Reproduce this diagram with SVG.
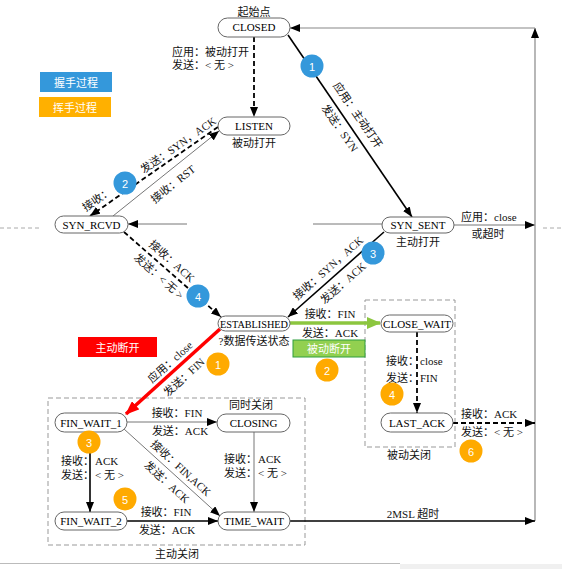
<svg xmlns="http://www.w3.org/2000/svg" width="562" height="569" viewBox="0 0 562 569">
<style>
text{font-family:"Liberation Serif","Noto Sans CJK SC",serif;font-size:11px;fill:#111}
.c{text-anchor:middle}
.node rect{fill:#fff;stroke:#666;stroke-width:1}
.nt{font-size:11px;text-anchor:middle;fill:#000}
.sans{font-family:"Liberation Sans","Noto Sans CJK SC",sans-serif;fill:#fff;text-anchor:middle}
.gray{stroke:#777;stroke-width:1;fill:none}
.blk{stroke:#000;stroke-width:1.6;fill:none}
.dash{stroke:#000;stroke-width:1.8;stroke-dasharray:5,3;fill:none}
.box{stroke:#999;stroke-width:1;stroke-dasharray:5,3;fill:none}
.bb{fill:#3498db}
.ob{fill:#ffaa00}
</style>
<defs>
<marker id="ab" markerUnits="userSpaceOnUse" markerWidth="10" markerHeight="8" refX="10" refY="4" orient="auto"><path d="M0,0 L10,4 L0,8 z" fill="#000"/></marker>
<marker id="ar" markerUnits="userSpaceOnUse" markerWidth="14" markerHeight="11" refX="13" refY="5.5" orient="auto"><path d="M0,0 L14,5.5 L0,11 z" fill="#ff0000"/></marker>
<marker id="ag" markerUnits="userSpaceOnUse" markerWidth="14" markerHeight="12" refX="13" refY="6" orient="auto"><path d="M0,0 L14,6 L0,12 z" fill="#8cc63f"/></marker>
</defs>
<rect width="562" height="569" fill="#fff"/>
<line x1="0" y1="563.5" x2="400" y2="563.5" stroke="#bbb"/>
<rect x="400" y="564" width="162" height="5" fill="#f0f0f0"/>
<line x1="0" y1="228" x2="42" y2="228" stroke="#aaa" stroke-dasharray="4,3"/>
<line x1="543" y1="228" x2="562" y2="228" stroke="#aaa" stroke-dasharray="4,3"/>

<!-- dashed group boxes -->
<rect class="box" x="365" y="300" width="90" height="147"/>
<rect class="box" x="48" y="398" width="257" height="147"/>

<!-- legend -->
<g id="legend">
<rect x="40" y="72" width="72" height="20" fill="#3498db"/>
<text class="sans" x="76" y="87" font-size="13">握手过程</text>
<rect x="39" y="97" width="72" height="20" fill="#ffb000"/>
<text class="sans" x="75" y="112" font-size="13">挥手过程</text>
</g>

<g id="connectors">
<line class="dash" x1="254" y1="37" x2="254" y2="117" marker-end="url(#ab)"/>
<line class="blk" x1="288" y1="35" x2="412" y2="217" marker-end="url(#ab)"/>
<line class="dash" x1="218" y1="127" x2="90" y2="216" marker-end="url(#ab)"/>
<line class="gray" x1="113" y1="216" x2="219" y2="131" marker-end="url(#ab)"/>
<line class="gray" x1="382" y1="224" x2="313" y2="224"/>
<line class="gray" x1="187" y1="224" x2="128" y2="224" marker-end="url(#ab)"/>
<line class="dash" x1="124" y1="232" x2="221" y2="317" marker-end="url(#ab)"/>
<line class="blk" x1="384" y1="232" x2="288" y2="317" marker-end="url(#ab)"/>
<line class="gray" x1="454" y1="225" x2="535" y2="225" stroke="#555" marker-end="url(#ab)"/>
<line x1="535" y1="521" x2="535" y2="28" stroke="#888" stroke-width="1.2" marker-end="url(#ab)"/>
<line x1="535" y1="28" x2="290" y2="28" stroke="#888" stroke-width="1.2" marker-end="url(#ab)"/>
<line x1="290" y1="323" x2="380" y2="323" stroke="#8cc63f" stroke-width="3.5" marker-end="url(#ag)"/>
<line x1="220" y1="329" x2="126" y2="414" stroke="#ff0000" stroke-width="3.5" marker-end="url(#ar)"/>
<line class="dash" x1="417" y1="332" x2="417" y2="413" marker-end="url(#ab)"/>
<line class="dash" x1="453" y1="423" x2="535" y2="423" marker-end="url(#ab)"/>
<line class="gray" x1="127" y1="422" x2="217" y2="422" marker-end="url(#ab)"/>
<line class="blk" x1="90" y1="432" x2="90" y2="512" stroke-width="1.8" marker-end="url(#ab)"/>
<line class="gray" x1="124" y1="429" x2="220" y2="516" marker-end="url(#ab)"/>
<line class="gray" x1="254" y1="432" x2="254" y2="512" marker-end="url(#ab)"/>
<line class="blk" x1="127" y1="521" x2="218" y2="521" stroke-width="1.8" marker-end="url(#ab)"/>
<line class="blk" x1="290" y1="521" x2="535" y2="521" stroke-width="1.8" marker-end="url(#ab)"/>
</g>

<g id="labels">
<text class="c" x="254" y="16">起始点</text>
<text x="172" y="56">应用：被动打开</text>
<text x="172" y="69">发送：&lt; 无 &gt;</text>
<text class="c" x="254" y="147">被动打开</text>
<text class="c" transform="translate(358,115) rotate(55.4)" y="4">应用：主动打开</text>
<text class="c" transform="translate(340,128) rotate(55.4)" y="4">发送：SYN</text>
<text x="461" y="221">应用：close</text>
<text class="c" x="488" y="238">或超时</text>
<text class="c" x="418" y="246">主动打开</text>
<text class="c" transform="translate(178,145) rotate(-34.8)" y="4">发送：SYN，ACK</text>
<text class="c" transform="translate(97,199) rotate(-34.8)" y="4">接收：</text>
<text class="c" transform="translate(173,184) rotate(-38.7)" y="4">接收：RST</text>
<text class="c" transform="translate(172,261) rotate(41.7)" y="4">接收：ACK</text>
<text class="c" transform="translate(159,276) rotate(41.7)" y="4">发送：&lt; 无 &gt;</text>
<text class="c" transform="translate(328,268) rotate(-41.5)" y="4">接收：SYN，ACK</text>
<text class="c" transform="translate(343,283) rotate(-41.5)" y="4">发送：ACK</text>
<text class="c" x="254" y="345">?数据传送状态</text>
<text class="c" x="330" y="318">接收：FIN</text>
<text class="c" x="330" y="337">发送：ACK</text>
<text class="c" transform="translate(170,362) rotate(-42.1)" y="4">应用：close</text>
<text class="c" transform="translate(184,377) rotate(-42.1)" y="4">发送：FIN</text>
<text x="386" y="365">接收：<tspan x="420">close</tspan></text>
<text x="386" y="382">发送：<tspan x="420">FIN</tspan></text>
<text x="461" y="418">接收：ACK</text>
<text x="461" y="436">发送：&lt; 无 &gt;</text>
<text class="c" x="409" y="459">被动关闭</text>
<text class="c" x="251" y="409">同时关闭</text>
<text class="c" x="177" y="417">接收：FIN</text>
<text class="c" x="180" y="435">发送：ACK</text>
<text x="61" y="465">接收：<tspan x="95">ACK</tspan></text>
<text x="61" y="479">发送：<tspan x="95">&lt; 无 &gt;</tspan></text>
<text x="224" y="463">接收：<tspan x="258">ACK</tspan></text>
<text x="224" y="477">发送：<tspan x="258">&lt; 无 &gt;</tspan></text>
<text class="c" transform="translate(181,468) rotate(42.2)" y="4">接收：FIN,ACK</text>
<text class="c" transform="translate(167,482) rotate(42.2)" y="4">发送：ACK</text>
<text class="c" x="166" y="516">接收：FIN</text>
<text class="c" x="167" y="534">发送：ACK</text>
<text class="c" x="413" y="518">2MSL 超时</text>
<text class="c" x="177" y="558">主动关闭</text>
</g>

<g id="tag-active">
<rect x="78" y="337" width="79" height="20" fill="#ff0000"/>
<text class="sans" x="117.5" y="352" font-size="14">主动断开</text>
</g>
<g id="tag-passive">
<rect x="293" y="340" width="72" height="17" fill="#92d050" stroke="#2e9e3e"/>
<text class="sans" x="329" y="353" font-size="13">被动断开</text>
</g>

<g id="node-closed" class="node"><rect x="218" y="18" width="72" height="19" rx="9.5"/><text class="nt" x="254" y="31">CLOSED</text></g>
<g id="node-listen" class="node"><rect x="218" y="117" width="72" height="18" rx="9"/><text class="nt" x="254" y="130">LISTEN</text></g>
<g id="node-syn-rcvd" class="node"><rect x="55" y="216" width="73" height="17" rx="8.5"/><text class="nt" x="91.5" y="228.5">SYN_RCVD</text></g>
<g id="node-syn-sent" class="node"><rect x="382" y="217" width="72" height="16" rx="8"/><text class="nt" x="418" y="229">SYN_SENT</text></g>
<g id="node-established" class="node"><rect x="218" y="316" width="72" height="15" rx="7.5"/><text class="nt" x="254" y="327.5" textLength="68" lengthAdjust="spacingAndGlyphs">ESTABLISHED</text></g>
<g id="node-close-wait" class="node"><rect x="381" y="315" width="72" height="17" rx="8.5"/><text class="nt" x="417" y="327.5">CLOSE_WAIT</text></g>
<g id="node-last-ack" class="node"><rect x="381" y="413" width="72" height="19" rx="9.5"/><text class="nt" x="417" y="426.5">LAST_ACK</text></g>
<g id="node-fin-wait-1" class="node"><rect x="55" y="413" width="72" height="19" rx="9.5"/><text class="nt" x="91" y="426.5">FIN_WAIT_1</text></g>
<g id="node-closing" class="node"><rect x="217" y="414" width="73" height="18" rx="9"/><text class="nt" x="253.5" y="427">CLOSING</text></g>
<g id="node-fin-wait-2" class="node"><rect x="55" y="512" width="72" height="18" rx="9"/><text class="nt" x="91" y="525">FIN_WAIT_2</text></g>
<g id="node-time-wait" class="node"><rect x="218" y="512" width="72" height="18" rx="9"/><text class="nt" x="254" y="525">TIME_WAIT</text></g>

<g id="badges">
<circle class="bb" cx="312" cy="66" r="11.5"/><text class="sans" x="312" y="70.5" font-size="12">1</text>
<circle class="bb" cx="125" cy="183" r="11.5"/><text class="sans" x="125" y="187.5" font-size="12">2</text>
<circle class="bb" cx="373" cy="253" r="11.5"/><text class="sans" x="373" y="257.5" font-size="12">3</text>
<circle class="bb" cx="198" cy="296" r="11.5"/><text class="sans" x="198" y="300.5" font-size="12">4</text>
<circle class="ob" cx="218" cy="364" r="11.5"/><text class="sans" x="218" y="368.5" font-size="12">1</text>
<circle class="ob" cx="327" cy="370" r="11.5"/><text class="sans" x="327" y="374.5" font-size="12">2</text>
<circle class="ob" cx="89" cy="442" r="11.5"/><text class="sans" x="89" y="446.5" font-size="12">3</text>
<circle class="ob" cx="392" cy="394" r="11.5"/><text class="sans" x="392" y="398.5" font-size="12">4</text>
<circle class="ob" cx="125" cy="499" r="11.5"/><text class="sans" x="125" y="503.5" font-size="12">5</text>
<circle class="ob" cx="471" cy="451" r="11.5"/><text class="sans" x="471" y="455.5" font-size="12">6</text>
</g>
</svg>
